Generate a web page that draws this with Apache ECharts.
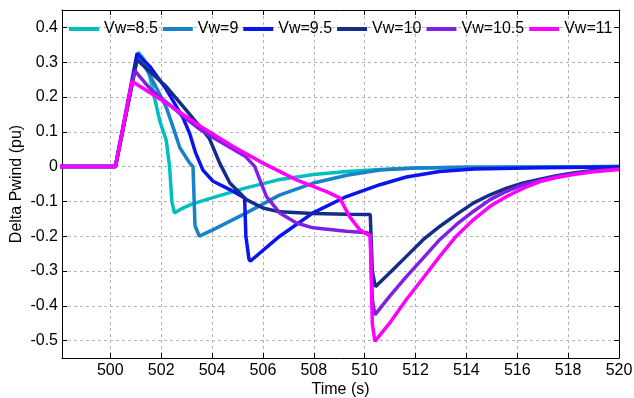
<!DOCTYPE html>
<html>
<head>
<meta charset="utf-8">
<script src="https://cdn.jsdelivr.net/npm/echarts@6/dist/echarts.min.js"></script>
<style>html,body{margin:0;padding:0;background:#fff;}#c{width:634px;height:398px;}</style>
</head>
<body>
<div id="c"></div>
<script>
var seriesNames = ['Vw=8.5', 'Vw=9', 'Vw=9.5', 'Vw=10', 'Vw=10.5', 'Vw=11'];
var xTicks = [500, 502, 504, 506, 508, 510, 512, 514, 516, 518, 520];
var yTicks = [-0.5, -0.4, -0.3, -0.2, -0.1, 0, 0.1, 0.2, 0.3, 0.4];

var vw85 = [[498,0],[500.2,0],[501.1,0.328],[501.3,0.31],[501.55,0.26],[501.7,0.21],[501.95,0.13],[502.2,0.075],[502.33,0.0],[502.42,-0.1],[502.52,-0.133],[502.75,-0.123],[503.2,-0.108],[504.0,-0.09],[505.3,-0.062],[506.6,-0.038],[508.0,-0.023],[509.3,-0.014],[510.6,-0.008],[512,-0.004],[514,-0.002],[517,-0.001],[520,0]];
var vw9 = [[498,0],[500.2,0],[501.08,0.322],[501.5,0.27],[502.0,0.2],[502.2,0.17],[502.46,0.115],[502.73,0.055],[503.1,0.012],[503.25,0.0],[503.33,-0.17],[503.5,-0.2],[504.05,-0.181],[505.35,-0.133],[506.65,-0.082],[507.95,-0.048],[509.3,-0.025],[510.6,-0.01],[512,-0.004],[514,-0.002],[517,-0.001],[520,0]];
var vw95 = [[498,0],[500.2,0],[501.05,0.325],[501.55,0.288],[502.2,0.222],[502.86,0.14],[503.12,0.095],[503.35,0.04],[503.64,-0.01],[504.04,-0.042],[504.7,-0.066],[505.28,-0.09],[505.33,-0.2],[505.45,-0.265],[505.5,-0.272],[506.66,-0.2],[507.97,-0.133],[509.28,-0.086],[510.6,-0.052],[511.64,-0.03],[512.95,-0.014],[514.3,-0.007],[516.9,-0.003],[520,-0.001]];
var vw10 = [[498,0],[500.2,0],[501.05,0.307],[501.6,0.27],[502.2,0.23],[502.86,0.173],[503.52,0.115],[503.9,0.08],[504.3,0.01],[504.7,-0.047],[505.35,-0.095],[506.0,-0.119],[506.66,-0.13],[507.97,-0.135],[509.3,-0.137],[510.22,-0.138],[510.3,-0.3],[510.42,-0.345],[510.98,-0.306],[511.64,-0.258],[512.3,-0.21],[512.95,-0.172],[513.6,-0.138],[514.27,-0.105],[514.93,-0.081],[515.58,-0.062],[516.24,-0.047],[516.9,-0.036],[517.5,-0.027],[518.2,-0.018],[519,-0.011],[520,-0.006]];
var vw105 = [[498,0],[500.2,0],[500.96,0.276],[501.55,0.225],[502.2,0.185],[502.86,0.145],[503.52,0.107],[504.17,0.078],[504.83,0.05],[505.3,0.03],[505.68,0.0],[505.88,-0.038],[506.14,-0.086],[506.66,-0.133],[507.32,-0.162],[507.97,-0.176],[509.28,-0.186],[510.1,-0.19],[510.22,-0.195],[510.3,-0.38],[510.4,-0.426],[510.98,-0.373],[511.64,-0.316],[512.3,-0.263],[512.95,-0.21],[513.6,-0.167],[514.27,-0.129],[514.93,-0.095],[515.58,-0.071],[516.24,-0.052],[516.9,-0.04],[517.5,-0.03],[518.2,-0.021],[519,-0.013],[520,-0.007]];
var vw11 = [[498,0],[500.2,0],[500.85,0.245],[502.2,0.183],[503.52,0.117],[504.83,0.058],[506.0,0.01],[507.32,-0.038],[508.5,-0.072],[509.02,-0.09],[509.4,-0.143],[509.8,-0.181],[510.22,-0.2],[510.3,-0.45],[510.4,-0.502],[510.98,-0.45],[511.64,-0.382],[512.3,-0.32],[512.95,-0.258],[513.6,-0.2],[514.27,-0.153],[514.93,-0.114],[515.58,-0.086],[516.24,-0.062],[516.9,-0.043],[517.5,-0.032],[518.2,-0.023],[519,-0.015],[520,-0.008]];

var allData = [vw85, vw9, vw95, vw10, vw105, vw11];
var colors = ['#00BFBF', '#1A80C8', '#0A14F0', '#152C8A', '#8020E0', '#FF00FF'];

var FONT = 'Liberation Sans, Arial, sans-serif';
var chart = echarts.init(document.getElementById('c'), null, {renderer: 'canvas'});

function xAx(pos, show) {
  return {
    type: 'value', position: pos, min: 498.1, max: 520,
    name: show ? 'Time (s)' : '', nameLocation: 'middle', nameGap: 24, nameMoveOverlap: false,
    nameTextStyle: {color: '#000', fontSize: 16, fontFamily: FONT},
    axisLine: {show: true, onZero: false, lineStyle: {color: '#000', width: 1}},
    axisTick: {show: true, inside: true, length: 5, customValues: xTicks, lineStyle: {color: '#000'}},
    axisLabel: {show: show, customValues: xTicks, color: '#000', fontSize: 16, fontFamily: FONT, margin: 5},
    splitLine: {show: show, lineStyle: {color: '#b4b4b4', type: [3, 3], width: 1}}
  };
}
function yAx(pos, show) {
  return {
    type: 'value', position: pos, min: -0.55, max: 0.45,
    name: show ? 'Delta Pwind (pu)' : '', nameLocation: 'middle', nameGap: 37, nameMoveOverlap: false,
    nameTextStyle: {color: '#000', fontSize: 16, fontFamily: FONT},
    axisLine: {show: true, onZero: false, lineStyle: {color: '#000', width: 1}},
    axisTick: {show: true, inside: true, length: 5, customValues: yTicks, lineStyle: {color: '#000'}},
    axisLabel: {show: show, customValues: yTicks, color: '#000', fontSize: 16, fontFamily: FONT, margin: 4,
      formatter: function (v) { return String(Math.round(v * 10) / 10); }},
    splitLine: {show: show, lineStyle: {color: '#b4b4b4', type: [3, 3], width: 1}}
  };
}

var series = seriesNames.map(function (n, i) {
  return {
    name: n, type: 'line', data: allData[i], xAxisIndex: 0, yAxisIndex: 0,
    showSymbol: false, symbol: 'none', smooth: false, clip: true,
    lineStyle: {color: colors[i], width: 3.5}, itemStyle: {color: colors[i]},
    animation: false
  };
});

chart.setOption({
  animation: false,
  backgroundColor: '#fff',
  color: colors,
  grid: {left: 62, right: 15, top: 10, bottom: 40, containLabel: false, outerBoundsMode: 'none'},
  legend: {
    data: seriesNames, left: 64, top: 16, icon: 'rect', itemWidth: 30, itemHeight: 4, itemGap: 5,
    textStyle: {color: '#000', fontSize: 16, fontFamily: FONT}
  },
  xAxis: [xAx('bottom', true), xAx('top', false)],
  yAxis: [yAx('left', true), yAx('right', false)],
  series: series
});
</script>
</body>
</html>
